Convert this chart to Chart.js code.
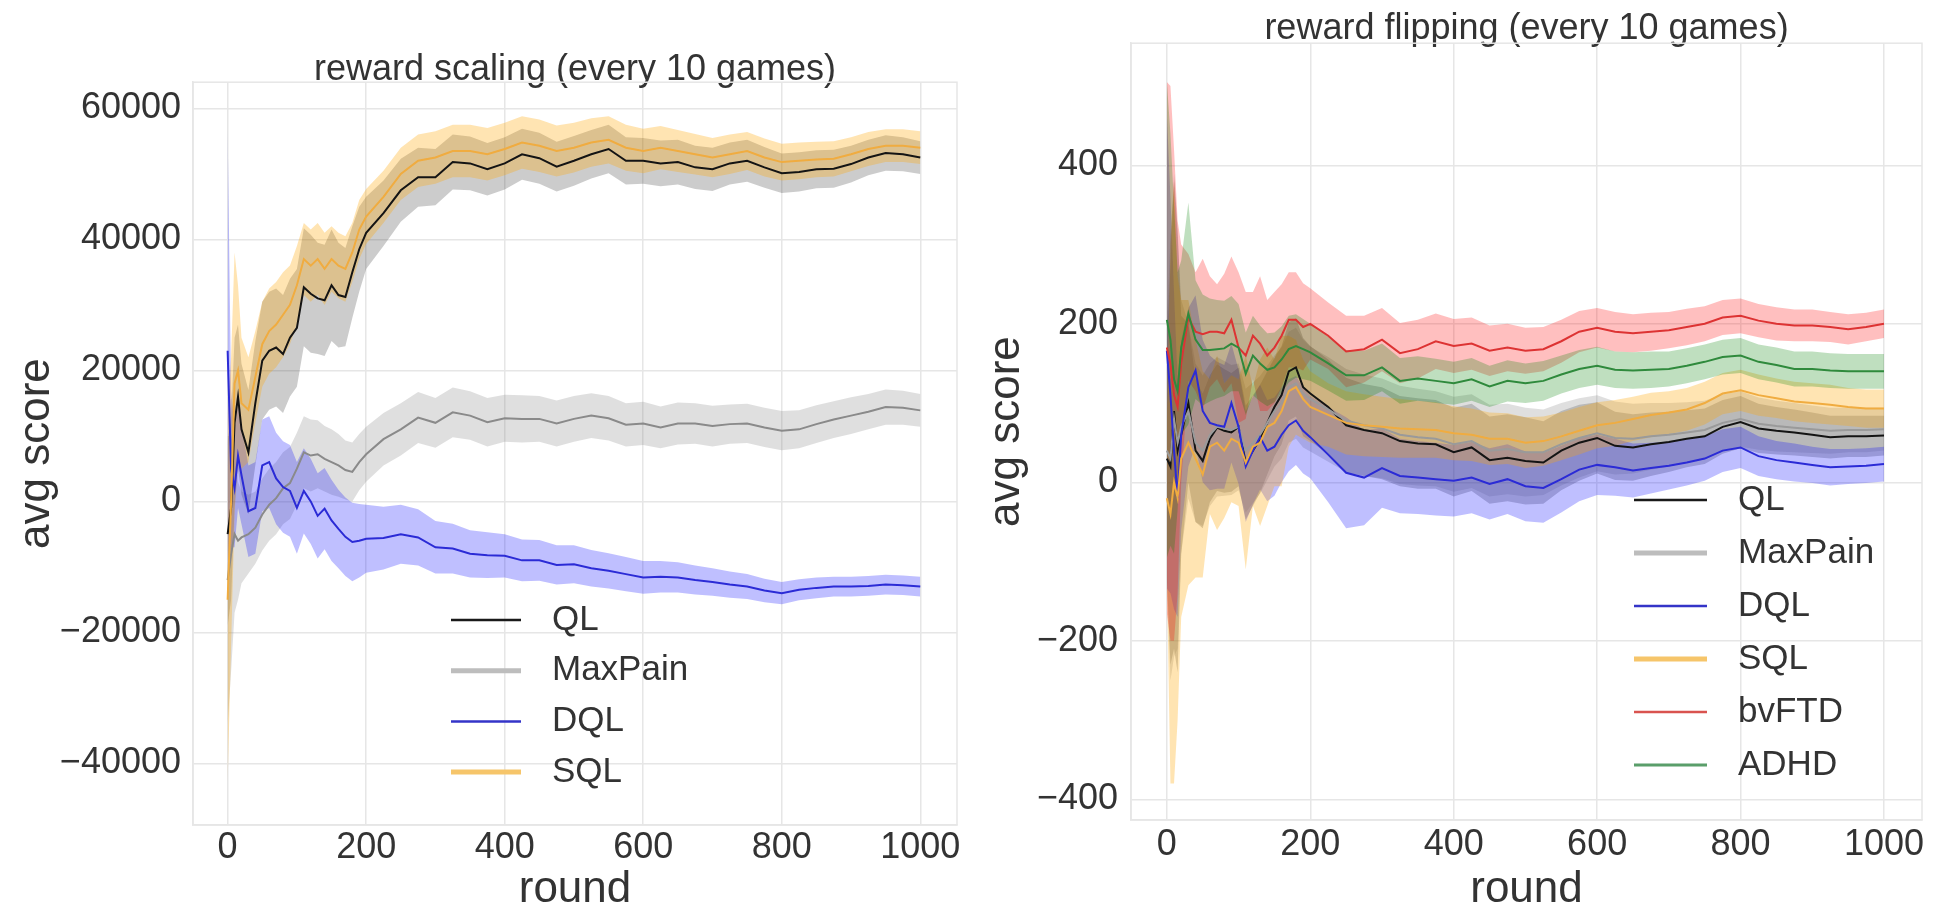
<!DOCTYPE html>
<html>
<head>
<meta charset="utf-8">
<script src="https://cdn.jsdelivr.net/npm/chart.js@4.4.0/dist/chart.umd.min.js"></script>
<style>
  html, body { margin: 0; padding: 0; background: #fff; overflow: hidden; width: 1936px; height: 909px; }
  #left { position: absolute; left: 0; top: 0; }
  #right { position: absolute; left: 968px; top: 0; }
</style>
</head>
<body>
<canvas id="left" width="968" height="950"></canvas>
<canvas id="right" width="1000" height="950"></canvas>
<script>
// x positions (round)
const rounds = [0,5,10,15,20, 30,40,50,60,70,80,90,100,110,120,130,140,150,160,170,180,190,200,
  225,250,275,300,325,350,375,400, 425,450,475,500,525,550,575,600, 625,650,675,700,725,750,775,800, 825,850,875,900,925,950,975,1000];

const roundTicks = [0, 200, 400, 600, 800, 1000];
const scaleTicks = [-40000, -20000, 0, 20000, 40000, 60000];
const flipTicks = [-400, -200, 0, 200, 400];

// reward scaling: means and spreads
const scaleQL = [-5000,-1000,12000,16000,11000,
  7500,15000,21500,23000,23500,22500,25000,26500,32700,31700,31000,30700,33000,31500,31200,35000,38500,41000,
  44000,47500,49500,49500,51800,51600,50700,51600, 53000,52400,51100,52000,53000,53800,52000,52000,
  51600,51800,51000,50700,51600,52000,51000,50100, 50300,50700,50800,51500,52500,53200,53000,52500];
const scaleQLsd = [14000,14000,13000,11000,10000,
  9500,9500,9000,9000,9000,9000,9000,9000,9000,9000,8500,8500,8500,8000,7500,7000,6500,5500,
  5000,4800,4500,4300,4200,4100,4000,4000, 3900,3900,3800,3800,3700,3700,3600,3500,
  3500,3400,3300,3300,3200,3200,3100,3000, 3000,2900,2900,2800,2700,2700,2600,2500];
const scaleMaxPain = [-12000,-8000,-5000,-6000,-5500,
  -5000,-4000,-2000,-500,500,2000,2800,5000,7500,7000,7200,6500,6000,5500,4800,4500,6000,7200,
  9500,11000,12800,12000,13600,13100,12100,12700, 12600,12600,11900,12600,13100,12700,11700,11900,
  11300,11900,11900,11500,11800,11900,11300,10800, 11000,11800,12500,13100,13700,14400,14300,13900];
const scaleMaxPainSd = [22000,18000,12000,9000,7000,
  6000,5500,5500,5500,5500,5500,5500,5500,5500,5500,5200,5000,5000,4800,4500,4500,4300,4200,
  4000,4000,3900,3800,3800,3700,3700,3600, 3600,3500,3500,3500,3400,3400,3300,3300,
  3200,3200,3100,3100,3000,3000,3000,3000, 2900,2900,2800,2800,2700,2700,2600,2500];
const scaleDQL = [23000,5000,2000,7000,4000,
  -1500,-1000,5500,6000,3500,2200,1600,-1000,1600,0,-2200,-1100,-2900,-4200,-5400,-6200,-6000,-5700,
  -5600,-5000,-5500,-7000,-7200,-8000,-8200,-8300, -9000,-9000,-9700,-9600,-10200,-10600,-11100,-11600,
  -11500,-11600,-12000,-12300,-12700,-13000,-13600,-14000, -13500,-13200,-13000,-13000,-12900,-12700,-12800,-13000];
const scaleDQLsd = [34000,12000,9000,8000,7500,
  7000,7000,7000,7000,7000,7000,7000,7000,6500,6500,6500,6200,6200,6000,6000,6000,5600,5200,
  4800,4500,4300,4000,3800,3600,3500,3300, 3200,3100,3000,2900,2800,2700,2600,2500,
  2400,2300,2200,2100,2000,1900,1800,1700, 1600,1600,1500,1500,1500,1500,1500,1500];
const scaleSQL = [-15000,0,18000,20000,15000,
  14000,19000,24000,26000,27000,28500,30000,33000,37000,36000,37000,35500,37000,36000,35500,38000,41500,43500,
  46500,50000,52000,52500,53500,53500,53000,53800, 54800,54300,53500,54000,54800,55200,54000,53500,
  54000,53500,53000,52500,53000,53500,52500,51800, 52000,52200,52300,53000,53800,54300,54300,54000];
const scaleSQLsd = [28000,22000,20000,13000,10000,
  8000,7000,6500,6500,6500,6500,6000,6000,5500,5500,5500,5500,5000,5000,5000,4500,4500,4200,
  4000,4000,4000,4000,4000,4000,4000,4000, 4000,4000,3900,3800,3700,3600,3500,3400,
  3300,3200,3100,3000,3000,2900,2900,2800, 2800,2700,2700,2600,2600,2500,2500,2500];

// reward flipping: means and spreads
const flipQL = [30,20,90,40,60,
  100,40,27,55,69,65,63,70,25,40,55,75,95,110,140,145,120,112,
  95,72,66,62,52,49,48,38, 44,28,31,27,25,40,50,56,
  46,44,48,51,55,58,70,76, 68,65,63,60,57,58,58,59];
const flipQLsd = [150,250,300,280,150,
  100,90,85,80,80,78,75,75,72,70,68,65,62,62,62,62,62,60,
  60,60,58,58,57,57,56,56, 55,55,55,55,52,50,48,45,
  43,42,40,38,36,35,34,33, 31,30,29,28,27,26,26,25];
const flipMaxPain = [40,30,80,50,70,
  90,50,40,60,70,68,66,70,40,50,60,75,90,100,120,125,112,105,
  92,78,72,68,60,57,55,48, 52,40,42,38,38,48,56,62,
  56,55,58,60,63,66,75,80, 74,71,69,67,65,66,66,67];
const flipMaxPainSd = [160,280,300,260,160,
  110,100,95,90,88,85,82,80,78,76,74,72,70,70,70,70,68,66,
  66,65,64,63,62,61,60,60, 59,58,57,56,54,52,50,48,
  46,44,42,40,38,37,36,35, 33,32,31,30,29,28,28,27];
const flipDQL = [166,110,40,-20,60,
  120,141,90,75,72,70,100,70,20,40,57,40,45,60,72,78,65,57,
  35,12,6,18,8,6,4,2, 6,-2,4,-5,-7,4,16,22,
  19,15,18,21,25,30,40,44, 33,28,25,22,19,20,21,23];
const flipDQLsd = [300,250,200,150,120,
  100,95,90,85,80,78,75,72,70,68,66,64,62,60,58,56,54,52,
  60,70,60,50,47,46,46,45, 45,45,44,44,44,42,40,38,
  36,34,32,30,29,28,27,26, 25,24,24,23,23,22,22,22];
const flipSQL = [-20,-40,0,-20,30,
  50,30,10,45,50,40,55,50,25,45,50,70,75,90,115,120,105,95,
  85,75,72,70,68,67,66,62, 60,55,55,50,52,58,65,72,
  75,80,85,88,92,100,112,116, 110,106,102,100,98,95,93,93];
const flipSQLsd = [100,340,380,280,200,
  180,150,130,85,110,85,80,80,135,75,105,100,80,95,70,60,50,45,
  40,40,39,38,37,36,35,34, 33,33,32,32,31,30,30,29,
  29,28,28,27,27,27,26,26, 26,25,25,25,25,24,24,24];
const flipBvFTD = [170,150,110,95,150,
  208,190,187,190,190,188,205,170,160,185,175,160,170,185,205,205,196,200,
  185,165,168,180,163,168,178,172, 175,166,170,166,168,178,190,195,
  190,188,190,192,196,200,208,210, 204,200,198,198,196,193,196,200];
const flipBvFTDsd = [335,350,310,235,150,
  80,75,95,70,60,75,80,95,80,55,85,70,70,65,60,60,55,45,
  42,45,42,40,38,37,35,34, 33,32,30,29,28,27,26,25,
  25,24,24,23,23,22,22,22, 21,21,20,20,19,19,18,18];
const flipADHD = [205,180,130,115,170,
  213,180,167,167,168,169,175,170,137,160,150,142,145,155,168,172,168,164,
  150,135,135,145,128,131,128,125, 130,121,128,125,128,136,143,147,
  142,141,142,143,147,152,158,160, 152,148,143,143,141,140,140,140];
const flipADHDsd = [300,260,220,150,110,
  140,75,70,65,62,60,60,55,52,50,48,46,44,42,42,40,38,36,
  34,32,31,30,29,28,28,27, 27,26,26,25,25,24,24,24,
  23,23,23,22,22,22,22,22, 22,22,22,22,22,22,22,22];

const FONT = "'Liberation Sans', Arial, sans-serif";
Chart.defaults.font.family = FONT;
Chart.defaults.color = '#333';

// one series = lower edge, upper edge (filled to lower), mean line
function series(label, mean, sd, lineColor, bandColor, legendColor, legendWidth, depth) {
  const pts = f => rounds.map((r, i) => ({x: r, y: f(i)}));
  return [
    {data: pts(i => mean[i] - sd[i]), borderWidth: 0, borderColor: 'transparent', pointRadius: 0, fill: false, order: 20 - depth},
    {data: pts(i => mean[i] + sd[i]), borderWidth: 0, borderColor: 'transparent', pointRadius: 0, fill: '-1', backgroundColor: bandColor, order: 20 - depth},
    {label: label, data: pts(i => mean[i]), borderColor: lineColor, borderWidth: 2, pointRadius: 0, fill: false, order: 10 - depth,
     inLegend: true, legendColor: legendColor, legendWidth: legendWidth}
  ];
}

// light frame round the plot area
const frame = {
  id: 'frame',
  beforeDatasetsDraw(chart) {
    const {ctx, chartArea: a} = chart;
    ctx.save();
    ctx.strokeStyle = '#e6e6e6';
    ctx.lineWidth = 1.5;
    ctx.strokeRect(a.left, a.top, a.right - a.left, a.bottom - a.top);
    ctx.restore();
  }
};

const insideLegend = {
  id: 'insideLegend',
  afterDraw(chart, args, o) {
    const ctx = chart.ctx;
    ctx.save();
    ctx.font = o.size + 'px ' + FONT;
    ctx.textBaseline = 'middle';
    ctx.textAlign = 'left';
    let y = o.y;
    chart.data.datasets.forEach(ds => {
      if (!ds.inLegend) return;
      ctx.strokeStyle = ds.legendColor;
      ctx.lineWidth = ds.legendWidth;
      ctx.beginPath();
      ctx.moveTo(o.x, y);
      ctx.lineTo(o.x + o.len, y);
      ctx.stroke();
      ctx.fillStyle = '#333';
      ctx.fillText(ds.label, o.textX, y);
      y += o.step;
    });
    ctx.restore();
  }
};

function makeChart(id, cfg) {
  const grid = {color: '#e6e6e6', lineWidth: 1.5, drawTicks: false};
  const border = {display: true, color: '#e6e6e6', width: 1.5};
  return new Chart(document.getElementById(id), {
    type: 'line',
    data: {datasets: cfg.datasets},
    plugins: [frame, insideLegend],
    options: {
      responsive: false,
      animation: false,
      layout: {padding: {left: 0, top: 0, bottom: 0, right: cfg.padRight}},
      plugins: {
        legend: {display: false},
        tooltip: {enabled: false},
        title: {display: true, fullSize: false, text: cfg.title, color: '#333',
          font: {size: 36, weight: 'normal', lineHeight: 1.2},
          padding: {top: cfg.titleTop, bottom: cfg.titleBottom}},
        insideLegend: cfg.legend
      },
      scales: {
        x: {
          type: 'linear', min: -50, max: 1053,
          grid: grid, border: border,
          afterBuildTicks: s => { s.ticks = roundTicks.map(v => ({value: v})); },
          afterFit: s => { s.height = 950 - cfg.bottom; },
          ticks: {font: {size: 36}, padding: cfg.xTickPad, color: '#333', maxRotation: 0, callback: v => String(v)},
          title: {display: true, text: 'round', color: '#333', font: {size: 44, lineHeight: 1.0}, padding: {top: 0, bottom: 38}}
        },
        y: {
          type: 'linear', min: cfg.yMin, max: cfg.yMax,
          grid: grid, border: border,
          afterBuildTicks: s => { s.ticks = cfg.yTicks.map(v => ({value: v})); },
          afterFit: s => { s.width = cfg.left; },
          ticks: {font: {size: 36}, padding: cfg.yTickPad, color: '#333',
            callback: v => (v < 0 ? '\u2212' + Math.abs(v) : String(v))},
          title: {display: true, text: 'avg score', color: '#333', font: {size: 44, lineHeight: 1.0}, padding: {top: cfg.yTitlePad, bottom: 0}}
        }
      }
    }
  });
}

makeChart('left', {
  title: 'reward scaling (every 10 games)',
  titleTop: 48, titleBottom: -9,
  padRight: 11, left: 193, bottom: 825,
  xTickPad: 1, yTickPad: 12, yTitlePad: 15,
  yMin: -49400, yMax: 64000, yTicks: scaleTicks,
  legend: {x: 451, len: 70, textX: 552, y: 620, step: 50.7, size: 35},
  datasets: [].concat(
    series('QL', scaleQL, scaleQLsd, '#141414', 'rgba(0,0,0,0.2)', '#1a1a1a', 2.5, 0),
    series('MaxPain', scaleMaxPain, scaleMaxPainSd, '#8a8a8a', 'rgba(128,128,128,0.25)', '#bdbdbd', 5, 1),
    series('DQL', scaleDQL, scaleDQLsd, '#2b2bd6', 'rgba(0,0,255,0.25)', '#3434c8', 2.5, 2),
    series('SQL', scaleSQL, scaleSQLsd, '#f0ac40', 'rgba(255,165,0,0.3)', '#f6c56a', 5, 3)
  )
});

makeChart('right', {
  title: 'reward flipping (every 10 games)',
  titleTop: 7, titleBottom: -7,
  padRight: 46, left: 163, bottom: 820,
  xTickPad: 3, yTickPad: 13, yTitlePad: 17,
  yMin: -426, yMax: 554, yTicks: flipTicks,
  legend: {x: 666, len: 73, textX: 770, y: 500, step: 53, size: 35},
  datasets: [].concat(
    series('QL', flipQL, flipQLsd, '#141414', 'rgba(0,0,0,0.2)', '#1a1a1a', 2.5, 0),
    series('MaxPain', flipMaxPain, flipMaxPainSd, '#9a9a9a', 'rgba(128,128,128,0.25)', '#bdbdbd', 5, 1),
    series('DQL', flipDQL, flipDQLsd, '#2b2bd6', 'rgba(0,0,255,0.25)', '#3434c8', 2.5, 2),
    series('SQL', flipSQL, flipSQLsd, '#f0ac40', 'rgba(255,165,0,0.3)', '#f6c56a', 5, 3),
    series('bvFTD', flipBvFTD, flipBvFTDsd, '#dd3333', 'rgba(255,0,0,0.25)', '#d9534f', 2.5, 4),
    series('ADHD', flipADHD, flipADHDsd, '#2f8a3c', 'rgba(0,128,0,0.25)', '#5a9e6a', 3, 5)
  )
});
</script>
</body>
</html>
